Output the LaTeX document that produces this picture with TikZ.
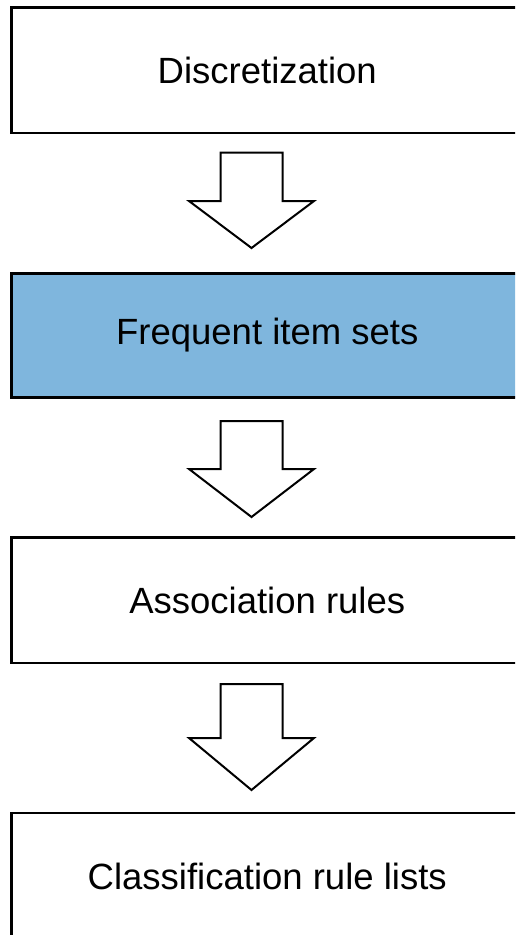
\documentclass[tikz,border=0pt]{standalone}
\usepackage{fontspec}
\setmainfont{Liberation Sans}

\definecolor{stepblue}{RGB}{127,182,221}

\tikzset{
  stagebox/.style={draw=black, line width=2.2pt, fill=white, inner sep=0pt,
    minimum width=511.5pt, font=\fontsize{36.5}{40}\selectfont},
  flowarrow/.style={draw=black, line width=2pt, fill=white, line join=miter},
  % down arrow: #1 = shaft length, #2 = head length (anchored at top centre)
  pics/downarrow/.style 2 args={code={
    \draw[flowarrow] (-31,0) -- (31,0) -- (31,#1) -- (62.5,#1) -- (0,#1+#2)
      -- (-62.5,#1) -- (-31,#1) -- cycle;
  }}
}

\begin{document}
\begin{tikzpicture}[x=1pt, y=-1pt]
  \useasboundingbox (0,0) rectangle (515,935);
  \clip (0,0) rectangle (515,935);

  % process stages
  \node[stagebox, minimum height=125.5pt] (disc) at (267.25,70.25) {Discretization};
  \node[stagebox, minimum height=124pt, fill=stepblue] (freq) at (267.25,335.5) {Frequent item sets};
  \node[stagebox, minimum height=125.5pt] (assoc) at (267.25,600.25) {Association rules};
  \node[stagebox, minimum height=127pt] (class) at (267.25,876.5) {Classification rule lists};

  % transitions between stages
  \coordinate (a1) at (251.5,152.5);
  \coordinate (a2) at (251.5,421);
  \coordinate (a3) at (251.5,684);
  \pic at (a1) {downarrow={48.5}{47}};
  \pic at (a2) {downarrow={48}{48}};
  \pic at (a3) {downarrow={54}{52}};
\end{tikzpicture}
\end{document}
